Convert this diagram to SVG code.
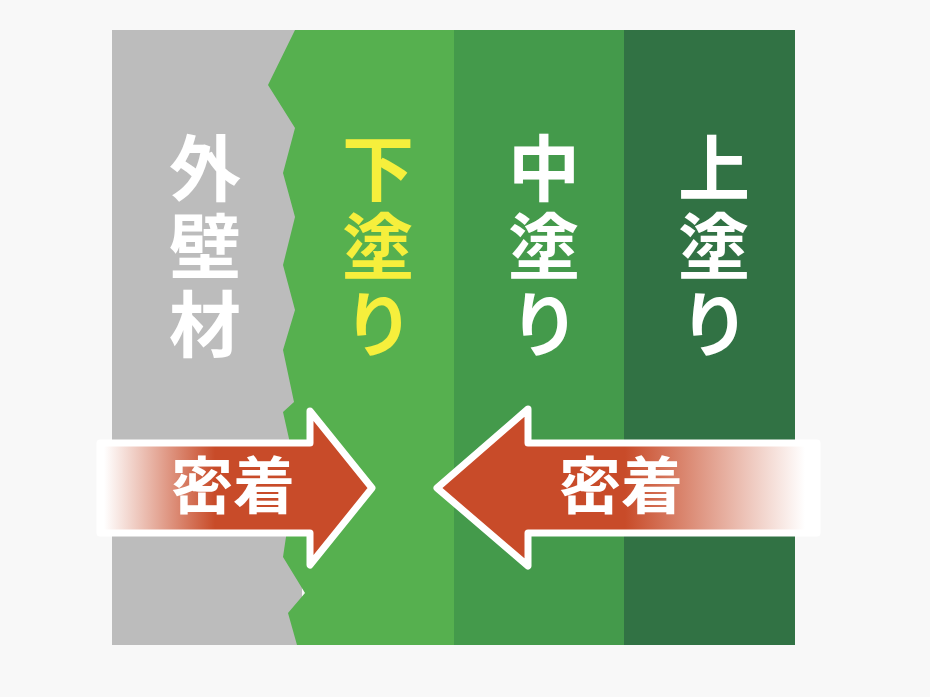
<svg xmlns="http://www.w3.org/2000/svg" width="930" height="697" viewBox="0 0 930 697">
<defs>
<style>
.lbl{font-family:"Noto Sans CJK JP","Noto Sans",sans-serif;font-weight:700;font-size:72px;writing-mode:vertical-rl;letter-spacing:6px}
.w{fill:#ffffff}
.y{fill:#f6ef3c}
.adh{font-family:"Noto Sans CJK JP","Noto Sans",sans-serif;font-weight:700;font-size:62px;text-anchor:middle;fill:#ffffff}
.arrow{stroke:#ffffff;stroke-width:7;stroke-linejoin:round}
</style>
<linearGradient id="gl" gradientUnits="userSpaceOnUse" x1="104" y1="0" x2="215" y2="0">
<stop offset="0" stop-color="#ffffff"/>
<stop offset="1" stop-color="#c84b29"/>
</linearGradient>
<linearGradient id="gr" gradientUnits="userSpaceOnUse" x1="625" y1="0" x2="805" y2="0">
<stop offset="0" stop-color="#c84b29"/>
<stop offset="1" stop-color="#ffffff"/>
</linearGradient>
</defs>
<rect x="0" y="0" width="930" height="697" fill="#f8f8f8"/>
<g id="outer-wall">
<rect x="112" y="30" width="190" height="615" fill="#bcbcbc"/>
</g>
<g id="undercoat">
<polygon points="295,30 455,30 455,645 297,645 288,613 305,593 283,557 296,470 283,412 294,402 283,350 295,310 283,265 295,217 283,173 295,128 268,85" fill="#56b04f"/>
</g>
<g id="middlecoat">
<rect x="454" y="30" width="171" height="615" fill="#449a4b"/>
</g>
<g id="topcoat">
<rect x="624" y="30" width="171" height="615" fill="#317244"/>
</g>
<g id="labels">
<text class="lbl w" x="205" y="132">外壁材</text>
<text class="lbl y" x="378" y="132">下塗り</text>
<text class="lbl w" x="544" y="132">中塗り</text>
<text class="lbl w" x="714" y="132">上塗り</text>
</g>
<g id="connectors">
<g id="arrow-left">
<polygon class="arrow" points="100,443 310,443 310,411 372,488 310,565 310,533 100,533" fill="url(#gl)"/>
<text class="adh" x="233" y="509">密着</text>
</g>
<g id="arrow-right">
<polygon class="arrow" points="817,443 528,443 528,409 437,488 528,566 528,533 817,533" fill="url(#gr)"/>
<text class="adh" x="621" y="509">密着</text>
</g>
</g>
</svg>
